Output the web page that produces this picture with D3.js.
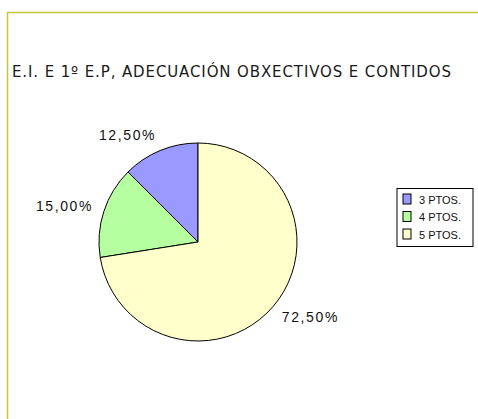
<!DOCTYPE html>
<html>
<head>
<meta charset="utf-8">
<script src="https://cdn.jsdelivr.net/npm/d3@7"></script>
<style>
  html, body { margin: 0; padding: 0; background: #fff; }
  svg { display: block; }
</style>
</head>
<body>
<svg id="chart"></svg>
<script>
const title = "E.I. E 1º E.P, ADECUACIÓN OBXECTIVOS E CONTIDOS";
const categories = ["3 PTOS.", "4 PTOS.", "5 PTOS."];
const values = [12.5, 15.0, 72.5];
const colors = ["#9999ff", "#b6ffa0", "#ffffcc"];

const W = 478, H = 419;
const svg = d3.select("#chart").attr("width", W).attr("height", H);

// frame lines (top + left)
svg.append("path")
  .attr("d", `M7.5,${H} V12.5 H${W}`)
  .attr("fill", "none")
  .attr("stroke", "#c2c837")
  .attr("stroke-width", 1.5);

svg.append("text")
  .attr("x", 12)
  .attr("y", 77)
  .attr("font-family", "DejaVu Sans, Verdana, sans-serif")
  .attr("font-size", 15)
  .attr("fill", "#1a1a1a")
  .attr("textLength", 439)
  .attr("lengthAdjust", "spacing")
  .text(title);

const cx = 198, cy = 242, r = 99;
const color = d3.scaleOrdinal().domain(categories).range(colors);

const pie = d3.pie()
  .sort(null)
  .startAngle(0)
  .endAngle(-2 * Math.PI)
  .value(d => d.v);

const arcs = pie(categories.map((c, i) => ({ c, v: values[i] })));
const arc = d3.arc().innerRadius(0).outerRadius(r);

const g = svg.append("g").attr("transform", `translate(${cx},${cy})`);
g.selectAll("path.slice")
  .data(arcs)
  .enter()
  .append("path")
  .attr("class", "slice")
  .attr("d", arc)
  .attr("fill", d => color(d.data.c))
  .attr("stroke", "#000")
  .attr("stroke-width", 1)
  .attr("stroke-linejoin", "round");

// labels, pushed outward from mid angle
const fmt = v => d3.format(".2f")(v).replace(".", ",") + "%";
const labelW = 56, labelH = 10, dist = r + 12;
g.selectAll("text.lbl")
  .data(arcs)
  .enter()
  .append("text")
  .attr("class", "lbl")
  .attr("font-family", "Liberation Sans, Arial, sans-serif")
  .attr("font-size", 14)
  .attr("letter-spacing", 1.6)
  .attr("fill", "#111")
  .attr("text-anchor", "middle")
  .attr("x", d => {
    const a = (d.startAngle + d.endAngle) / 2;
    const dx = Math.sin(a);
    return dist * dx + Math.sign(dx) * labelW / 2;
  })
  .attr("y", d => {
    const a = (d.startAngle + d.endAngle) / 2;
    const dy = -Math.cos(a);
    return dist * dy + dy * labelH / 2 + labelH / 2;
  })
  .text(d => fmt(d.data.v));

// legend
const lg = svg.append("g").attr("transform", "translate(397,188.5)");
lg.append("rect")
  .attr("width", 76)
  .attr("height", 58)
  .attr("fill", "#fff")
  .attr("stroke", "#000")
  .attr("stroke-width", 1);

const ly = d3.scalePoint().domain(categories).range([15, 50]);
const items = lg.selectAll("g.item")
  .data(categories)
  .enter()
  .append("g")
  .attr("class", "item")
  .attr("transform", d => `translate(0,${ly(d)})`);

items.append("rect")
  .attr("x", 6)
  .attr("y", -9.5)
  .attr("width", 8)
  .attr("height", 10)
  .attr("fill", d => color(d))
  .attr("stroke", "#000")
  .attr("stroke-width", 1);

items.append("text")
  .attr("x", 22)
  .attr("y", 0)
  .attr("font-family", "Liberation Sans, Arial, sans-serif")
  .attr("font-size", 11)
  .attr("fill", "#111")
  .text(d => d);
</script>
</body>
</html>
